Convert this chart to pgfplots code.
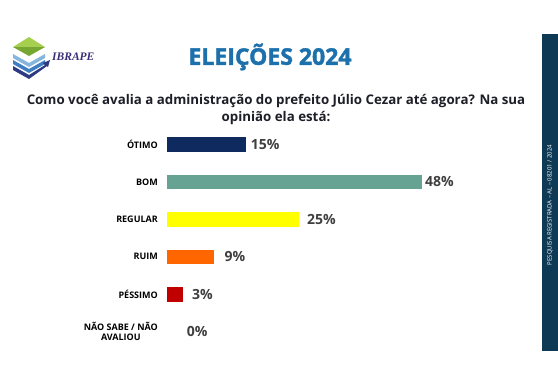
\documentclass[border=0pt]{standalone}
\usepackage{pgfplots}
\pgfplotsset{compat=1.18}
\usepackage{fontspec}
\setmainfont{Open Sans}
\newfontfamily\logofont{Liberation Serif}
\newfontfamily\titlefont[UprightFont={* Bold}, UprightFeatures={FakeBold=1.6}]{Open Sans}
\definecolor{otimo}{HTML}{0F2A5F}
\definecolor{bom}{HTML}{67A393}
\definecolor{regular}{HTML}{FFFF00}
\definecolor{ruim}{HTML}{FF6600}
\definecolor{pessimo}{HTML}{C00000}
\definecolor{valgray}{HTML}{404040}
\definecolor{titleblue}{HTML}{1C70AC}
\definecolor{strip}{HTML}{0E3A56}
\definecolor{qtext}{HTML}{1E1E28}
\definecolor{logogreenA}{HTML}{A6CF4F}
\definecolor{logogreenB}{HTML}{76A733}
\definecolor{logoblueA}{HTML}{86B6DE}
\definecolor{logoblueB}{HTML}{3F7FC1}
\definecolor{logonavy}{HTML}{2E3B82}
\definecolor{logotext}{HTML}{3A2E78}
\begin{document}
\begin{tikzpicture}
\useasboundingbox (0,0) rectangle (558pt,-389pt);
\fill[white] (0,0) rectangle (558pt,-389pt);
\begin{scope}[x=1pt,y=-1pt]
% right strip
\fill[strip] (542,34) rectangle (558,351);
\node[rotate=90, text=white, font=\fontsize{6}{7}\selectfont, inner sep=0pt] at (550,205) {PESQUISA REGISTRADA -- AL -- 08201 / 2024};
% logo
\fill[logogreenA] (13,47) -- (29,37) -- (45,47) -- cycle;
\fill[logogreenB] (13,47) -- (29,56) -- (45,47) -- cycle;
\fill[logoblueA] (13,54) -- (29,63) -- (45,54) -- (45,58) -- (29,67) -- (13,58) -- cycle;
\fill[logoblueB] (13,60) -- (29,69) -- (45,60) -- (45,64) -- (29,73) -- (13,64) -- cycle;
\fill[logonavy] (13,66) -- (29,75) -- (45,65) -- (43,63) -- (50,60) -- (48,67) -- (47,66) -- (29,79) -- (13,70) -- cycle;
\node[anchor=west, inner sep=0pt, text=logotext, font=\logofont\bfseries\itshape\fontsize{11.5}{13}\selectfont] at (52,57) {IBRAPE};
% titles
\node[text=titleblue, font=\titlefont\fontsize{23}{26}\selectfont, inner sep=0pt] at (270,57) {ELEIÇÕES 2024};
\node[text=qtext, font=\fontsize{13.3}{17}\selectfont\bfseries, align=center, inner sep=0pt] at (276,109) {Como você avalia a administração do prefeito Júlio Cezar até agora? Na sua\\opinião ela está:};
\end{scope}
\begin{axis}[
  at={(166.7pt,-350.55pt)}, anchor=south west,
  scale only axis, width=318.6pt, height=225pt,
  xmin=0, xmax=60, ymin=-0.5, ymax=5.5,
  xbar, bar width=14.5pt, bar shift=0pt,
  axis line style={draw=none},
  major tick length=0pt,
  xtick=\empty,
  ytick={0,1,2,3,4,5},
  yticklabels={{NÃO SABE / NÃO\\AVALIOU},PÉSSIMO,RUIM,REGULAR,BOM,ÓTIMO},
  yticklabel style={align=center, anchor=east, inner sep=0pt, xshift=-8.7pt,
     font=\fontsize{9}{10}\selectfont\bfseries, text=black},
  point meta=x,
  nodes near coords={\pgfmathprintnumber[precision=0,assume math mode=true]{\pgfplotspointmeta}\%},
  every node near coord/.append style={anchor=west, inner sep=0pt,
     font=\fontsize{14}{16}\selectfont\bfseries, text=valgray},
  clip=false,
]
\addplot[fill=otimo, draw=none, nodes near coords style={xshift=4.3pt}] coordinates {(15,5)};
\addplot[fill=bom, draw=none, nodes near coords style={xshift=3.3pt}] coordinates {(48,4)};
\addplot[fill=regular, draw=none, nodes near coords style={xshift=7.4pt}] coordinates {(25,3)};
\addplot[fill=ruim, draw=none, nodes near coords style={xshift=10pt}] coordinates {(9,2)};
\addplot[fill=pessimo, draw=none, nodes near coords style={xshift=9.3pt}] coordinates {(3,1)};
\addplot[fill=none, draw=none, nodes near coords style={xshift=20pt}] coordinates {(0,0)};
\end{axis}
\end{tikzpicture}
\end{document}
